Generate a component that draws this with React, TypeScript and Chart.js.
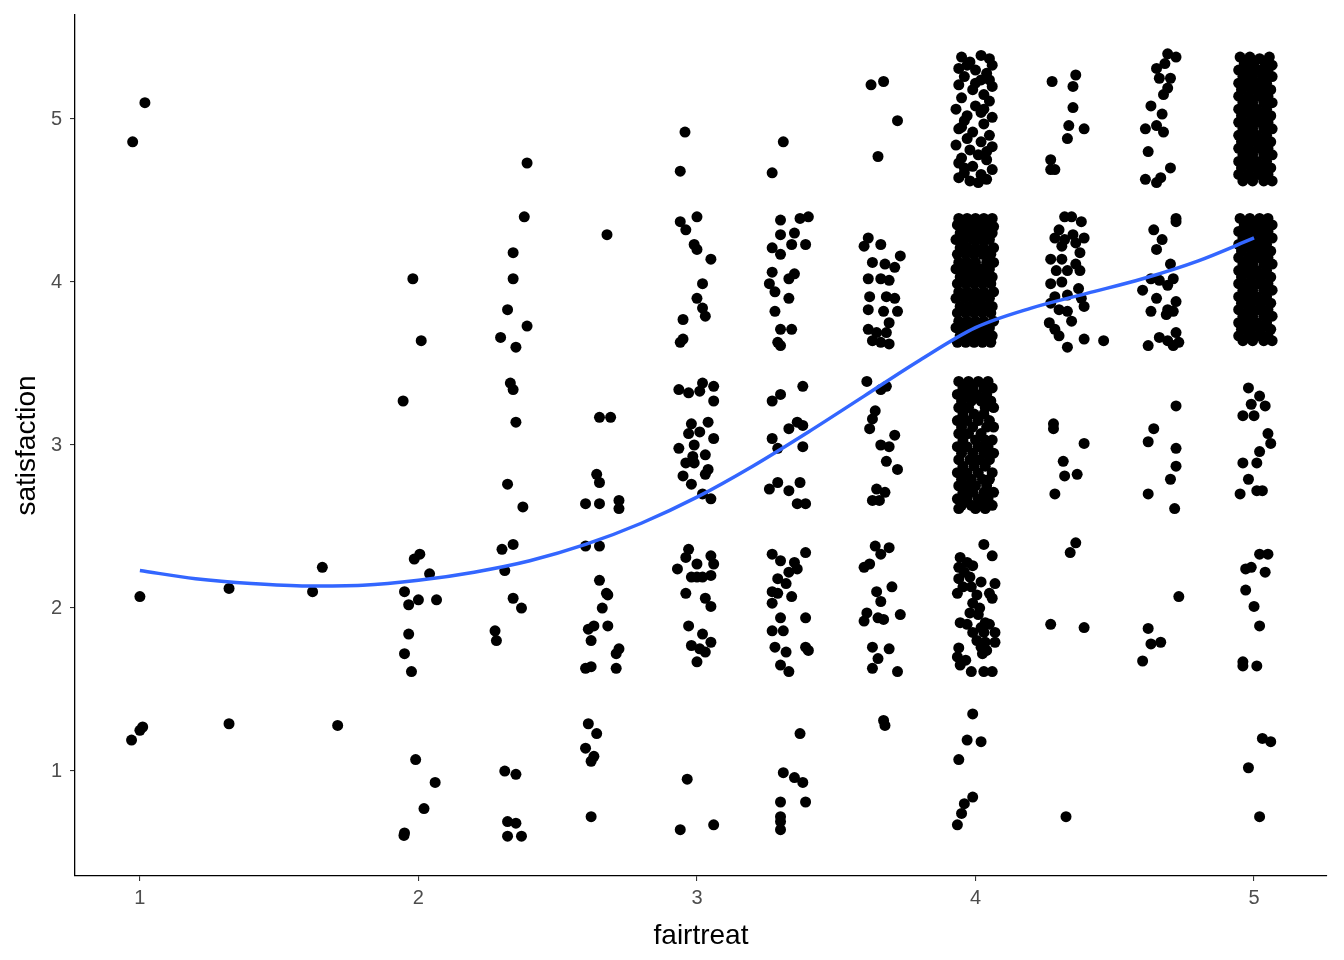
import React, { useEffect, useRef } from 'react';
import { Chart, registerables } from 'chart.js';

Chart.register(...registerables);

// Axis settings
const xTicks = [1, 2, 3, 4, 5];
const yTicks = [1, 2, 3, 4, 5];
const xMin = 0.767;
const xMax = 5.262;
const yMin = 0.356;
const yMax = 5.638;
const xTitle = 'fairtreat';
const yTitle = 'satisfaction';

// Smoothed (loess) curve
const smoothX = [1.0, 1.2, 1.4, 1.6, 1.8, 2.0, 2.2, 2.4, 2.6, 2.8, 3.0, 3.2, 3.4, 3.6, 3.8, 4.0, 4.2, 4.4, 4.6, 4.8, 5.0];
const smoothY = [2.23, 2.18, 2.15, 2.135, 2.14, 2.17, 2.22, 2.29, 2.39, 2.52, 2.68, 2.87, 3.08, 3.3, 3.52, 3.72, 3.84, 3.93, 4.02, 4.13, 4.27];

// Jittered observations [fairtreat, satisfaction]
const ft1: [number, number][] = [[1.018, 5.1], [0.974, 4.86], [1.0, 2.07], [1.01, 1.27], [1.0, 1.25], [0.97, 1.19]];
const ft133: [number, number][] = [[1.32, 2.12], [1.32, 1.29]];
const ft167: [number, number][] = [[1.655, 2.25], [1.62, 2.1], [1.71, 1.28]];
const ft2: [number, number][] = [
  [1.98, 4.02], [2.01, 3.64], [1.945, 3.27], [2.005, 2.33], [1.985, 2.3], [2.04, 2.21], [1.95, 2.1], [2.0, 2.05],
  [1.965, 2.02], [2.065, 2.05], [1.965, 1.84], [1.95, 1.72], [1.975, 1.61], [1.99, 1.07], [2.06, 0.93], [2.02, 0.77],
  [1.95, 0.62], [1.948, 0.605],
];
const ft233: [number, number][] = [
  [2.39, 4.73], [2.38, 4.4], [2.34, 4.18], [2.34, 4.02], [2.32, 3.83], [2.39, 3.73], [2.295, 3.66], [2.35, 3.6],
  [2.33, 3.38], [2.34, 3.34], [2.35, 3.14], [2.32, 2.76], [2.375, 2.62], [2.3, 2.36], [2.34, 2.39], [2.31, 2.23],
  [2.34, 2.06], [2.37, 2.0], [2.275, 1.86], [2.28, 1.8], [2.31, 1.0], [2.35, 0.98], [2.32, 0.69], [2.35, 0.68],
  [2.32, 0.6], [2.37, 0.6],
];
const ft267: [number, number][] = [
  [2.677, 4.29], [2.65, 3.17], [2.69, 3.17], [2.64, 2.82], [2.65, 2.77], [2.6, 2.64], [2.65, 2.64], [2.72, 2.66],
  [2.72, 2.61], [2.6, 2.38], [2.65, 2.38], [2.65, 2.17], [2.675, 2.09], [2.68, 2.08], [2.66, 2.0], [2.63, 1.89],
  [2.68, 1.89], [2.61, 1.87], [2.62, 1.8], [2.72, 1.75], [2.71, 1.72], [2.62, 1.64], [2.6, 1.63], [2.71, 1.63],
  [2.61, 1.29], [2.64, 1.23], [2.6, 1.14], [2.63, 1.09], [2.62, 1.06], [2.62, 0.72],
];
const ft3: [number, number][] = [
  [2.957, 4.92], [2.94, 4.68], [2.94, 4.37], [3.0, 4.4], [2.96, 4.32], [2.99, 4.23], [3.0, 4.2], [3.05, 4.14],
  [3.02, 3.99], [3.0, 3.9], [3.02, 3.84], [3.03, 3.79], [2.95, 3.77], [2.95, 3.65], [2.94, 3.63],
  [2.935, 3.34], [2.97, 3.32], [3.02, 3.38], [3.06, 3.36], [3.01, 3.33], [3.06, 3.27], [2.98, 3.13], [3.04, 3.14],
  [2.97, 3.07], [3.01, 3.08], [3.06, 3.04], [2.935, 2.98], [2.99, 3.0], [2.985, 2.93], [3.03, 2.94], [2.96, 2.89],
  [2.99, 2.89], [2.95, 2.81], [3.03, 2.82], [3.04, 2.85], [2.98, 2.76], [3.02, 2.7], [3.05, 2.67],
  [2.97, 2.36], [2.96, 2.31], [2.93, 2.24], [3.0, 2.27], [2.98, 2.19], [3.05, 2.32], [3.06, 2.27], [3.02, 2.19],
  [3.05, 2.2], [3.0, 2.19], [2.96, 2.09], [3.03, 2.06], [3.05, 2.01], [2.97, 1.89], [2.98, 1.77], [3.02, 1.84],
  [3.05, 1.79], [3.01, 1.75], [3.03, 1.73], [3.0, 1.67], [2.965, 0.95], [2.94, 0.64], [3.06, 0.67],
];
const ft333: [number, number][] = [
  [3.31, 4.86], [3.27, 4.67], [3.3, 4.38], [3.37, 4.39], [3.4, 4.4], [3.35, 4.3], [3.3, 4.29], [3.27, 4.21],
  [3.34, 4.23], [3.39, 4.23], [3.3, 4.17], [3.27, 4.06], [3.35, 4.05], [3.33, 4.02], [3.26, 3.99], [3.28, 3.94],
  [3.33, 3.9], [3.28, 3.82], [3.3, 3.71], [3.34, 3.71], [3.29, 3.63], [3.3, 3.61],
  [3.38, 3.36], [3.3, 3.31], [3.27, 3.27], [3.36, 3.14], [3.38, 3.12], [3.33, 3.1], [3.27, 3.04], [3.29, 2.98],
  [3.38, 2.99], [3.26, 2.73], [3.29, 2.77], [3.33, 2.72], [3.37, 2.77], [3.36, 2.64], [3.39, 2.64],
  [3.27, 2.33], [3.3, 2.29], [3.39, 2.34], [3.35, 2.28], [3.33, 2.22], [3.36, 2.24], [3.29, 2.18], [3.32, 2.15],
  [3.27, 2.1], [3.29, 2.09], [3.34, 2.07], [3.27, 2.03], [3.3, 1.94], [3.39, 1.94], [3.27, 1.86], [3.31, 1.86],
  [3.28, 1.76], [3.32, 1.73], [3.39, 1.76], [3.4, 1.74], [3.3, 1.65], [3.33, 1.61],
  [3.37, 1.23], [3.31, 0.99], [3.35, 0.96], [3.38, 0.93], [3.39, 0.81], [3.3, 0.81], [3.3, 0.72], [3.3, 0.69], [3.3, 0.64],
];
const ft367: [number, number][] = [
  [3.625, 5.21], [3.67, 5.23], [3.72, 4.99], [3.65, 4.77],
  [3.615, 4.27], [3.6, 4.22], [3.66, 4.23], [3.73, 4.16], [3.63, 4.12], [3.675, 4.11], [3.71, 4.09], [3.615, 4.02],
  [3.66, 4.02], [3.69, 4.01], [3.62, 3.91], [3.68, 3.91], [3.71, 3.9], [3.615, 3.83], [3.67, 3.82], [3.72, 3.82],
  [3.69, 3.75], [3.615, 3.71], [3.645, 3.69], [3.68, 3.69], [3.63, 3.64], [3.66, 3.63], [3.69, 3.62],
  [3.61, 3.39], [3.66, 3.34], [3.68, 3.36], [3.64, 3.21], [3.63, 3.16], [3.62, 3.1], [3.71, 3.06], [3.66, 3.0],
  [3.69, 2.99], [3.68, 2.9], [3.72, 2.85], [3.645, 2.73], [3.675, 2.71], [3.63, 2.66], [3.655, 2.66],
  [3.64, 2.38], [3.69, 2.37], [3.66, 2.33], [3.62, 2.27], [3.6, 2.25], [3.7, 2.13], [3.645, 2.1], [3.66, 2.04],
  [3.61, 1.97], [3.65, 1.94], [3.67, 1.93], [3.73, 1.96], [3.6, 1.92], [3.63, 1.76], [3.69, 1.75], [3.65, 1.69],
  [3.63, 1.63], [3.72, 1.61], [3.67, 1.31], [3.675, 1.28],
];
const ft4Top: [number, number][] = [
  [3.95, 5.38], [4.02, 5.39], [4.05, 5.37], [3.98, 5.35], [4.06, 5.33], [3.94, 5.31], [4.0, 5.3], [4.04, 5.28],
  [3.96, 5.26], [4.02, 5.24], [3.94, 5.21], [4.06, 5.2], [3.99, 5.18], [4.03, 5.15], [3.95, 5.13], [4.05, 5.11],
  [4.0, 5.08], [3.93, 5.06], [4.02, 5.04], [4.06, 5.01], [3.96, 4.99], [4.03, 4.97], [3.94, 4.94], [3.99, 4.92],
  [4.05, 4.9], [3.97, 4.88], [4.02, 4.86], [3.93, 4.84], [4.06, 4.83], [3.98, 4.81], [4.01, 4.78], [3.95, 4.76],
  [4.04, 4.75], [3.94, 4.73], [3.99, 4.71], [4.06, 4.69], [3.96, 4.67], [4.02, 4.66], [3.94, 4.64], [4.04, 4.63],
  [3.98, 4.62], [4.01, 4.61], [3.95, 4.95], [4.0, 5.22], [3.97, 5.02], [4.04, 4.8], [3.97, 5.33], [4.05, 5.24],
  [3.96, 4.7], [4.03, 5.06],
];
const ft4Mid: [number, number][] = [
  [3.94, 4.39], [3.97, 4.39], [4.0, 4.39], [4.03, 4.39], [4.06, 4.39],
  [3.935, 4.35], [3.96, 4.35], [3.99, 4.35], [4.02, 4.35], [4.05, 4.35], [4.065, 4.34],
  [3.945, 4.3], [3.975, 4.3], [4.005, 4.3], [4.035, 4.3], [4.06, 4.3],
  [3.93, 4.26], [3.96, 4.26], [3.99, 4.26], [4.02, 4.26], [4.05, 4.26],
  [3.945, 4.21], [3.97, 4.21], [4.0, 4.21], [4.03, 4.21], [4.065, 4.21],
  [3.935, 4.17], [3.965, 4.17], [3.995, 4.17], [4.025, 4.17], [4.055, 4.17],
  [3.94, 4.12], [3.97, 4.12], [4.0, 4.12], [4.04, 4.12], [4.065, 4.12],
  [3.93, 4.08], [3.96, 4.08], [3.99, 4.08], [4.02, 4.08], [4.05, 4.08],
  [3.945, 4.03], [3.975, 4.03], [4.005, 4.03], [4.035, 4.03], [4.06, 4.03],
  [3.935, 3.99], [3.965, 3.99], [3.995, 3.99], [4.025, 3.99], [4.055, 3.99],
  [3.94, 3.94], [3.97, 3.94], [4.0, 3.94], [4.03, 3.94], [4.065, 3.94],
  [3.93, 3.9], [3.96, 3.9], [3.99, 3.9], [4.02, 3.9], [4.05, 3.9],
  [3.945, 3.85], [3.975, 3.85], [4.005, 3.85], [4.035, 3.85], [4.06, 3.85],
  [3.935, 3.81], [3.965, 3.81], [3.995, 3.81], [4.025, 3.81], [4.055, 3.81],
  [3.94, 3.76], [3.97, 3.76], [4.0, 3.76], [4.03, 3.76], [4.065, 3.76],
  [3.93, 3.72], [3.96, 3.72], [3.99, 3.72], [4.02, 3.72], [4.05, 3.72],
  [3.945, 3.67], [3.975, 3.67], [4.005, 3.67], [4.035, 3.67], [4.06, 3.67],
  [3.935, 3.63], [3.965, 3.63], [3.995, 3.63], [4.025, 3.63], [4.055, 3.63],
];
const ft4Low: [number, number][] = [
  [3.94, 3.39], [3.975, 3.39], [4.01, 3.39], [4.045, 3.39],
  [3.955, 3.35], [3.99, 3.35], [4.03, 3.35], [4.06, 3.35],
  [3.935, 3.31], [3.97, 3.31], [4.005, 3.31], [4.04, 3.31],
  [3.95, 3.27], [3.985, 3.27], [4.02, 3.27], [4.055, 3.27],
  [3.94, 3.23], [3.975, 3.23], [4.035, 3.23], [4.065, 3.23],
  [3.955, 3.19], [3.995, 3.19], [4.03, 3.19],
  [3.935, 3.15], [3.97, 3.15], [4.01, 3.15], [4.05, 3.15],
  [3.95, 3.11], [3.99, 3.11], [4.04, 3.11], [4.065, 3.11],
  [3.94, 3.07], [3.975, 3.07], [4.02, 3.07],
  [3.955, 3.03], [4.0, 3.03], [4.035, 3.03], [4.06, 3.03],
  [3.935, 2.99], [3.97, 2.99], [4.01, 2.99], [4.045, 2.99],
  [3.95, 2.95], [3.99, 2.95], [4.03, 2.95], [4.065, 2.95],
  [3.94, 2.91], [3.98, 2.91], [4.015, 2.91], [4.05, 2.91],
  [3.955, 2.87], [3.995, 2.87], [4.035, 2.87],
  [3.935, 2.83], [3.97, 2.83], [4.01, 2.83], [4.06, 2.83],
  [3.95, 2.79], [3.985, 2.79], [4.025, 2.79], [4.05, 2.79],
  [3.94, 2.75], [3.975, 2.75], [4.0, 2.75], [4.04, 2.75],
  [3.955, 2.71], [3.99, 2.71], [4.03, 2.71], [4.065, 2.71],
  [3.935, 2.67], [3.97, 2.67], [4.01, 2.67], [4.045, 2.67],
  [3.95, 2.63], [3.985, 2.63], [4.02, 2.63], [4.06, 2.63],
  [3.94, 2.61], [4.0, 2.61], [4.035, 2.61],
];
const ft4Two: [number, number][] = [
  [4.03, 2.39], [4.06, 2.32], [3.945, 2.31], [3.97, 2.28], [3.99, 2.26], [3.94, 2.25], [3.96, 2.22], [3.94, 2.18],
  [3.98, 2.19], [4.02, 2.16], [4.07, 2.15], [3.955, 2.13], [3.985, 2.13], [3.935, 2.09], [4.005, 2.08], [4.05, 2.09],
  [4.06, 2.06], [3.99, 2.03], [4.015, 2.0], [3.98, 1.97], [4.01, 1.96], [3.945, 1.91], [3.97, 1.9], [4.035, 1.91],
  [4.05, 1.9], [4.02, 1.88], [3.99, 1.85], [4.03, 1.85], [4.07, 1.85], [4.005, 1.8], [4.035, 1.79], [4.07, 1.79],
  [4.02, 1.76], [3.94, 1.755], [4.04, 1.74], [3.935, 1.7], [4.025, 1.72], [3.965, 1.68], [3.945, 1.65], [3.985, 1.61],
  [4.03, 1.61], [4.06, 1.61],
];
const ft4One: [number, number][] = [
  [3.99, 1.35], [3.97, 1.19], [4.02, 1.18], [3.94, 1.07], [3.99, 0.84], [3.96, 0.8], [3.95, 0.74], [3.935, 0.67],
];
const ft433: [number, number][] = [
  [4.275, 5.23], [4.36, 5.27], [4.35, 5.2], [4.35, 5.07], [4.335, 4.96], [4.39, 4.94], [4.33, 4.88], [4.27, 4.75],
  [4.27, 4.69], [4.285, 4.69],
  [4.32, 4.4], [4.345, 4.4], [4.38, 4.37], [4.3, 4.32], [4.35, 4.29], [4.39, 4.27], [4.285, 4.27], [4.32, 4.26],
  [4.36, 4.24], [4.31, 4.22], [4.375, 4.18], [4.27, 4.14], [4.31, 4.14], [4.36, 4.11], [4.29, 4.07], [4.33, 4.07],
  [4.375, 4.07], [4.27, 3.99], [4.31, 4.0], [4.37, 3.96], [4.285, 3.91], [4.33, 3.92], [4.38, 3.9], [4.27, 3.87],
  [4.3, 3.83], [4.39, 3.85], [4.33, 3.82], [4.345, 3.76], [4.265, 3.75], [4.285, 3.71], [4.3, 3.67], [4.39, 3.65],
  [4.46, 3.64], [4.33, 3.6],
  [4.28, 3.13], [4.28, 3.1], [4.39, 3.01], [4.315, 2.9], [4.365, 2.82], [4.32, 2.81], [4.285, 2.7],
  [4.36, 2.4], [4.34, 2.34], [4.27, 1.9], [4.39, 1.88], [4.325, 0.72],
];
const ft467: [number, number][] = [
  [4.69, 5.4], [4.72, 5.38], [4.68, 5.34], [4.65, 5.31], [4.66, 5.25], [4.7, 5.25], [4.69, 5.19], [4.675, 5.15],
  [4.63, 5.08], [4.67, 5.03], [4.61, 4.94], [4.65, 4.96], [4.675, 4.92], [4.62, 4.8], [4.7, 4.7], [4.61, 4.63],
  [4.665, 4.64], [4.65, 4.61],
  [4.72, 4.39], [4.72, 4.37], [4.64, 4.32], [4.67, 4.26], [4.65, 4.2], [4.7, 4.11], [4.63, 4.02], [4.66, 4.01],
  [4.71, 4.02], [4.69, 3.98], [4.6, 3.95], [4.65, 3.9], [4.72, 3.88], [4.63, 3.82], [4.69, 3.83], [4.71, 3.82],
  [4.685, 3.8], [4.66, 3.66], [4.69, 3.64], [4.72, 3.69], [4.73, 3.63], [4.62, 3.61], [4.71, 3.61],
  [4.72, 3.24], [4.64, 3.1], [4.62, 3.02], [4.72, 2.98], [4.72, 2.87], [4.7, 2.79], [4.62, 2.7], [4.715, 2.61],
  [4.73, 2.07], [4.62, 1.875], [4.63, 1.78], [4.665, 1.79], [4.6, 1.675],
];
const ft5Top: [number, number][] = [
  [4.95, 5.38], [4.985, 5.38], [5.02, 5.37], [5.055, 5.38],
  [4.965, 5.34], [5.0, 5.34], [5.04, 5.34], [5.065, 5.33],
  [4.945, 5.3], [4.98, 5.3], [5.015, 5.3], [5.05, 5.3],
  [4.96, 5.26], [4.995, 5.26], [5.03, 5.26], [5.065, 5.26],
  [4.945, 5.22], [4.975, 5.22], [5.01, 5.22], [5.045, 5.22],
  [4.955, 5.18], [4.99, 5.18], [5.025, 5.18], [5.06, 5.18],
  [4.945, 5.14], [4.98, 5.14], [5.015, 5.14], [5.05, 5.14],
  [4.96, 5.1], [4.995, 5.1], [5.035, 5.1], [5.065, 5.1],
  [4.945, 5.06], [4.975, 5.06], [5.01, 5.06], [5.045, 5.06],
  [4.955, 5.02], [4.99, 5.02], [5.025, 5.02], [5.06, 5.02],
  [4.945, 4.98], [4.98, 4.98], [5.015, 4.98], [5.05, 4.98],
  [4.96, 4.94], [4.995, 4.94], [5.035, 4.94], [5.065, 4.94],
  [4.945, 4.9], [4.975, 4.9], [5.01, 4.9], [5.045, 4.9],
  [4.955, 4.86], [4.99, 4.86], [5.025, 4.86], [5.06, 4.86],
  [4.945, 4.82], [4.98, 4.82], [5.015, 4.82], [5.05, 4.82],
  [4.96, 4.78], [4.995, 4.78], [5.035, 4.78], [5.065, 4.78],
  [4.945, 4.74], [4.975, 4.74], [5.01, 4.74], [5.045, 4.74],
  [4.955, 4.7], [4.99, 4.7], [5.025, 4.7], [5.06, 4.7],
  [4.945, 4.66], [4.98, 4.66], [5.015, 4.66], [5.05, 4.66],
  [4.96, 4.62], [4.995, 4.62], [5.035, 4.62], [5.065, 4.62],
];
const ft5Mid: [number, number][] = [
  [4.95, 4.39], [4.985, 4.39], [5.02, 4.39], [5.05, 4.39],
  [4.965, 4.35], [5.0, 4.35], [5.035, 4.35], [5.065, 4.35],
  [4.945, 4.31], [4.98, 4.31], [5.015, 4.31], [5.05, 4.31],
  [4.96, 4.27], [4.995, 4.27], [5.03, 4.27], [5.065, 4.27],
  [4.945, 4.23], [4.975, 4.23], [5.01, 4.23], [5.045, 4.23],
  [4.955, 4.19], [4.99, 4.19], [5.025, 4.19], [5.06, 4.19],
  [4.945, 4.15], [4.98, 4.15], [5.015, 4.15], [5.05, 4.15],
  [4.96, 4.11], [4.995, 4.11], [5.035, 4.11], [5.065, 4.11],
  [4.945, 4.07], [4.975, 4.07], [5.01, 4.07], [5.045, 4.07],
  [4.955, 4.03], [4.99, 4.03], [5.025, 4.03], [5.06, 4.03],
  [4.945, 3.99], [4.98, 3.99], [5.015, 3.99], [5.05, 3.99],
  [4.96, 3.95], [4.995, 3.95], [5.035, 3.95], [5.065, 3.95],
  [4.945, 3.91], [4.975, 3.91], [5.01, 3.91], [5.045, 3.91],
  [4.955, 3.87], [4.99, 3.87], [5.025, 3.87], [5.06, 3.87],
  [4.945, 3.83], [4.98, 3.83], [5.015, 3.83], [5.05, 3.83],
  [4.96, 3.79], [4.995, 3.79], [5.035, 3.79], [5.065, 3.79],
  [4.945, 3.75], [4.975, 3.75], [5.01, 3.75], [5.045, 3.75],
  [4.955, 3.71], [4.99, 3.71], [5.025, 3.71], [5.06, 3.71],
  [4.945, 3.67], [4.98, 3.67], [5.015, 3.67], [5.05, 3.67],
  [4.96, 3.64], [4.995, 3.64], [5.035, 3.64], [5.065, 3.64],
];
const ft5Low: [number, number][] = [
  [4.98, 3.35], [5.02, 3.3], [4.99, 3.25], [5.04, 3.24], [4.96, 3.18], [5.0, 3.18], [5.05, 3.07], [5.06, 3.01],
  [5.02, 2.96], [4.96, 2.89], [5.01, 2.89], [4.98, 2.79], [4.95, 2.7], [5.01, 2.72], [5.03, 2.72],
  [5.02, 2.33], [5.05, 2.33], [4.97, 2.24], [4.99, 2.25], [5.04, 2.22], [4.97, 2.11], [5.0, 2.01], [5.02, 1.89],
  [4.96, 1.67], [4.96, 1.645], [5.01, 1.645], [5.03, 1.2], [5.06, 1.18], [4.98, 1.02], [5.02, 0.72],
];

const pointGroups = [ft1, ft133, ft167, ft2, ft233, ft267, ft3, ft333, ft367, ft4Top, ft4Mid, ft4Low, ft4Two, ft4One, ft433, ft467, ft5Top, ft5Mid, ft5Low];

const FONT = '"Liberation Sans", Arial, Helvetica, sans-serif';

export default function App() {
  const canvasRef = useRef<HTMLCanvasElement | null>(null);

  useEffect(() => {
    const canvas = canvasRef.current;
    if (!canvas) return;
    const points = pointGroups.flat().map(([x, y]) => ({ x, y }));
    const curve = smoothX.map((x, i) => ({ x, y: smoothY[i] }));

    const chart = new Chart(canvas, {
      type: 'scatter',
      data: {
        datasets: [
          {
            type: 'line',
            data: curve,
            borderColor: '#3366FF',
            borderWidth: 3.5,
            pointRadius: 0,
            fill: false,
            cubicInterpolationMode: 'monotone',
          } as any,
          {
            type: 'scatter',
            data: points,
            backgroundColor: '#000000',
            borderWidth: 0,
            pointRadius: 5.5,
            pointHoverRadius: 5.5,
          },
        ],
      },
      options: {
        responsive: false,
        animation: false,
        devicePixelRatio: 1,
        events: [],
        layout: { padding: { top: 15, right: 17, left: 0, bottom: 0 } },
        plugins: { legend: { display: false }, tooltip: { enabled: false } },
        scales: {
          x: {
            type: 'linear',
            min: xMin,
            max: xMax,
            afterFit: (s: any) => { s.height = 84; s.paddingLeft = 0; s.paddingRight = 0; },
            afterBuildTicks: (s: any) => { s.ticks = xTicks.map((v) => ({ value: v })); },
            grid: { display: true, drawOnChartArea: false, drawTicks: true, tickLength: 5, color: '#333333', lineWidth: 1.1 },
            border: { display: true, color: '#000000', width: 1.3 },
            ticks: { color: '#4d4d4d', font: { family: FONT, size: 20 }, padding: 5, maxRotation: 0, callback: (v: any) => String(v) },
            title: { display: true, text: xTitle, color: '#000000', font: { family: FONT, size: 28 }, padding: { top: 0, bottom: 7 } },
          },
          y: {
            type: 'linear',
            min: yMin,
            max: yMax,
            afterFit: (s: any) => { s.width = 75; s.paddingTop = 0; s.paddingBottom = 0; },
            afterBuildTicks: (s: any) => { s.ticks = yTicks.map((v) => ({ value: v })); },
            grid: { display: true, drawOnChartArea: false, drawTicks: true, tickLength: 5, color: '#333333', lineWidth: 1.1 },
            border: { display: true, color: '#000000', width: 1.3 },
            ticks: { color: '#4d4d4d', font: { family: FONT, size: 20 }, padding: 8, callback: (v: any) => String(v) },
            title: { display: true, text: yTitle, color: '#000000', font: { family: FONT, size: 28 }, padding: { top: 10, bottom: 0 } },
          },
        },
      },
    });
    return () => chart.destroy();
  }, []);

  return (
    <div style={{ position: 'fixed', left: 0, top: 0, width: 1344, height: 960, background: '#ffffff' }}>
      <canvas ref={canvasRef} width={1344} height={960} style={{ display: 'block', width: 1344, height: 960 }} />
    </div>
  );
}
